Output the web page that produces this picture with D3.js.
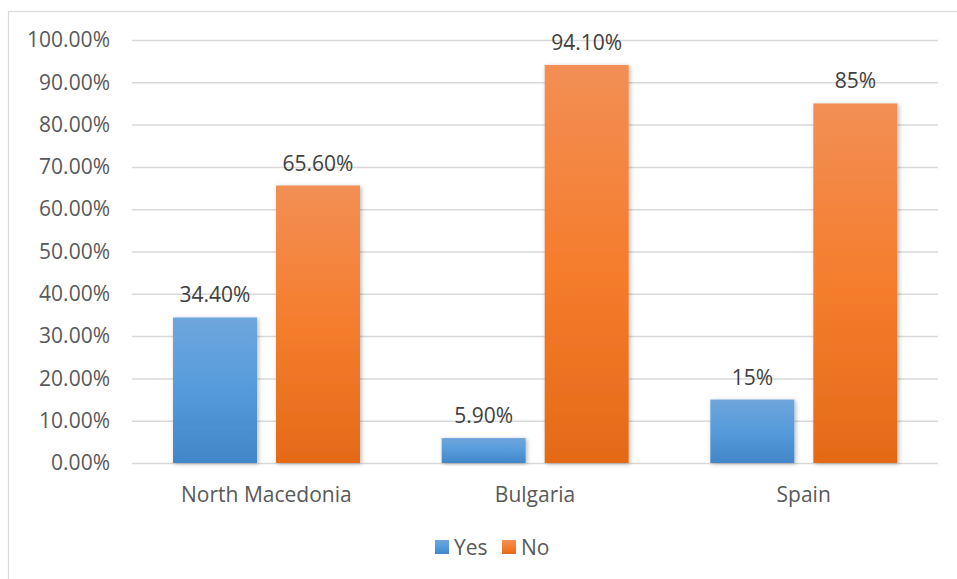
<!DOCTYPE html>
<html>
<head>
<meta charset="utf-8">
<script src="https://cdn.jsdelivr.net/npm/d3@7"></script>
<style>
  html, body { margin: 0; padding: 0; background: #ffffff; }
  svg { display: block; font-family: "Open Sans", "Noto Sans", sans-serif; }
</style>
</head>
<body>
<svg id="chart" width="957" height="579"></svg>
<script>
// Data
const categories = ["North Macedonia", "Bulgaria", "Spain"];
const seriesNames = ["Yes", "No"];
const yesValues = [34.4, 5.9, 15];
const noValues = [65.6, 94.1, 85];
const valueLabels = [["34.40%", "65.60%"], ["5.90%", "94.10%"], ["15%", "85%"]];
const yTicks = [0, 10, 20, 30, 40, 50, 60, 70, 80, 90, 100];

const svg = d3.select("#chart");

const plot = { left: 132, right: 938, top: 40, bottom: 463 };
const FS = 21;

// Chart frame
svg.append("rect")
  .attr("x", 8.5).attr("y", 11.5)
  .attr("width", 980).attr("height", 620)
  .attr("fill", "#fff")
  .attr("stroke", "#d9d9d9").attr("stroke-width", 1.2);

const defs = svg.append("defs");
const gradSpecs = [
  { id: "gYes", stops: ["#6fa6dc", "#559bdc", "#4286c7"] },
  { id: "gNo", stops: ["#f28f55", "#f57d2d", "#e46a18"] }
];
gradSpecs.forEach(g => {
  const lg = defs.append("linearGradient").attr("id", g.id)
    .attr("x1", 0).attr("y1", 0).attr("x2", 0).attr("y2", 1);
  lg.append("stop").attr("offset", "0%").attr("stop-color", g.stops[0]);
  lg.append("stop").attr("offset", "50%").attr("stop-color", g.stops[1]);
  lg.append("stop").attr("offset", "100%").attr("stop-color", g.stops[2]);
});
const shadow = defs.append("filter").attr("id", "barShadow")
  .attr("x", "-20%").attr("y", "-10%").attr("width", "140%").attr("height", "120%");
shadow.append("feDropShadow")
  .attr("dx", 1.5).attr("dy", 1).attr("stdDeviation", 2.2)
  .attr("flood-color", "#000").attr("flood-opacity", 0.28);

const y = d3.scaleLinear().domain([0, 100]).range([plot.bottom, plot.top]);
const x0 = d3.scaleBand().domain(categories).range([plot.left, plot.right]).paddingInner(0).paddingOuter(0);
// Each category band: two bars with a small gap between them
const x1 = d3.scaleBand().domain(seriesNames).range([41, 228]).paddingInner(0.1845).paddingOuter(0);

// Gridlines and y tick labels
const yAxis = d3.axisLeft(y).tickValues(yTicks)
  .tickSize(-(plot.right - plot.left))
  .tickFormat(d => d.toFixed(2) + "%")
  .tickPadding(22);
const gy = svg.append("g").attr("transform", `translate(${plot.left},0)`).call(yAxis);
gy.select(".domain").remove();
gy.selectAll(".tick line").attr("stroke", "#d9d9d9").attr("stroke-width", 1.5);
gy.selectAll(".tick text")
  .attr("fill", "#595959").attr("font-size", FS)
  .attr("font-family", "'Open Sans', sans-serif");

// Bars
const rows = categories.map((c, i) => ({ cat: c, i, vals: [yesValues[i], noValues[i]] }));
const groups = svg.append("g").selectAll("g").data(rows).join("g")
  .attr("transform", d => `translate(${x0(d.cat)},0)`);

groups.selectAll("rect").data(d => d.vals.map((v, k) => ({ v, k, name: seriesNames[k] })))
  .join("rect")
  .attr("x", d => x1(d.name))
  .attr("width", x1.bandwidth())
  .attr("y", d => y(d.v))
  .attr("height", d => y(0) - y(d.v))
  .attr("fill", d => d.k === 0 ? "url(#gYes)" : "url(#gNo)")
  .attr("filter", "url(#barShadow)");

// Value labels
groups.selectAll("text.val").data(d => d.vals.map((v, k) => ({ v, k, name: seriesNames[k], label: valueLabels[d.i][k] })))
  .join("text")
  .attr("class", "val")
  .attr("x", d => x1(d.name) + x1.bandwidth() / 2)
  .attr("y", d => y(d.v) - 15)
  .attr("text-anchor", "middle")
  .attr("fill", "#404040")
  .attr("font-size", FS)
  .text(d => d.label);

// Category axis labels
svg.append("g").selectAll("text").data(categories).join("text")
  .attr("x", d => x0(d) + x0.bandwidth() / 2)
  .attr("y", 502)
  .attr("text-anchor", "middle")
  .attr("fill", "#595959")
  .attr("font-size", FS)
  .text(d => d);

// Legend
const legendItems = [
  { name: "Yes", fill: "url(#gYes)", x: 435 },
  { name: "No", fill: "url(#gNo)", x: 502 }
];
const lg = svg.append("g").selectAll("g").data(legendItems).join("g")
  .attr("transform", d => `translate(${d.x},540)`);
lg.append("rect").attr("width", 14).attr("height", 14).attr("fill", d => d.fill);
lg.append("text").attr("x", 19).attr("y", 15)
  .attr("fill", "#595959").attr("font-size", FS)
  .text(d => d.name);
</script>
</body>
</html>
